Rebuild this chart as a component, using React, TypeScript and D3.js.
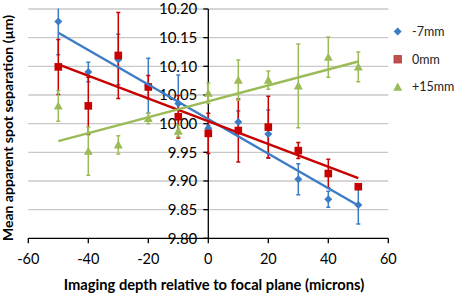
import React from "react";
import * as d3 from "d3";

const depths = [-50, -40, -30, -20, -10, 0, 10, 20, 30, 40, 50];
const minus7 = [10.178, 10.09, 10.112, 10.066, 10.035, 9.992, 10.003, 9.982, 9.903, 9.868, 9.858];
const minus7Err = [0.058, 0.017, 0.044, 0.048, 0.05, 0.005, 0.019, 0.042, 0.027, 0.014, 0.033];
const zero = [10.099, 10.031, 10.119, 10.064, 10.012, 9.983, 9.988, 9.994, 9.953, 9.913, 9.89];
const zeroErr = [0.048, 0.05, 0.075, 0.02, 0.037, 0.035, 0.055, 0.054, 0.014, 0.025, 0.0];
const plus15 = [10.031, 9.952, 9.963, 10.009, 9.987, 10.053, 10.076, 10.076, 10.066, 10.116, 10.099];
const plus15Err = [0.027, 0.042, 0.016, 0.009, 0.01, 0.018, 0.035, 0.016, 0.073, 0.035, 0.026];

const seriesNames = ["-7mm", "0mm", "+15mm"];
const xTicks = [-60, -40, -20, 0, 20, 40, 60];
const yTicks = [9.8, 9.85, 9.9, 9.95, 10.0, 10.05, 10.1, 10.15, 10.2];

const FONT = "Lato, 'Open Sans', sans-serif";

function regress(xs: number[], ys: number[]) {
  const mx = d3.mean(xs)!;
  const my = d3.mean(ys)!;
  let sxy = 0, sxx = 0;
  xs.forEach((x, i) => { sxy += (x - mx) * (ys[i] - my); sxx += (x - mx) ** 2; });
  const b = sxy / sxx;
  return (x: number) => my + b * (x - mx);
}

export default function App() {
  const W = 454, H = 299;
  const x = d3.scaleLinear().domain([-60, 60]).range([28.3, 388.3]);
  const y = d3.scaleLinear().domain([9.8, 10.2]).range([238.3, 9]);

  const series = [
    { name: seriesNames[0], vals: minus7, err: minus7Err, color: "#3b7cc4", line: "#3b7cc4", shape: "diamond" },
    { name: seriesNames[1], vals: zero, err: zeroErr, color: "#c80000", line: "#c80000", shape: "square" },
    { name: seriesNames[2], vals: plus15, err: plus15Err, color: "#9bbb59", line: "#9bbb59", shape: "triangle" },
  ];

  const marker = (shape: string, cx: number, cy: number, color: string, key: string, legend = false) => {
    if (shape === "diamond") {
      const s = 4;
      return <path key={key} d={`M${cx},${cy - s}L${cx + s},${cy}L${cx},${cy + s}L${cx - s},${cy}Z`} fill={color} />;
    }
    if (shape === "square") {
      const s = legend ? 3.7 : 3.8;
      return <rect key={key} x={cx - s} y={cy - s} width={2 * s} height={2 * s} fill={legend ? "#c0504d" : color} stroke={legend ? "#b03a37" : "none"} strokeWidth={0.8} />;
    }
    const s = 4.5;
    return <path key={key} d={`M${cx},${cy - s}L${cx + s},${cy + s * 0.8}L${cx - s},${cy + s * 0.8}Z`} fill={color} />;
  };

  const line = d3.line<[number, number]>().x(d => x(d[0])).y(d => y(d[1]));

  return (
    <svg width={W} height={H} style={{ position: "absolute", left: 0, top: 0, background: "#fff" }} fontFamily={FONT}>
      <defs>
        <clipPath id="plot">
          <rect x={28} y={8.5} width={361} height={230.5} />
        </clipPath>
      </defs>
      {/* gridlines */}
      {yTicks.filter(t => t > 9.8).map(t => (
        <line key={t} x1={x(-60)} x2={x(60)} y1={y(t)} y2={y(t)} stroke="#c8c8c8" strokeWidth={1.3} />
      ))}
      {/* x axis */}
      <line x1={x(-60)} x2={x(60)} y1={y(9.8)} y2={y(9.8)} stroke="#000" strokeWidth={1.3} />
      {xTicks.map(t => (
        <g key={t}>
          <line x1={x(t)} x2={x(t)} y1={y(9.8)} y2={y(9.8) + 5} stroke="#000" strokeWidth={1.3} />
          <text x={x(t)} y={264} textAnchor="middle" fontSize={14.5} fill="#000">{t}</text>
        </g>
      ))}
      {/* y axis at x = 0 */}
      <line x1={x(0)} x2={x(0)} y1={y(9.8)} y2={y(10.2)} stroke="#000" strokeWidth={1.3} />
      {yTicks.map(t => (
        <g key={t}>
          <line x1={x(0) - 5} x2={x(0)} y1={y(t)} y2={y(t)} stroke="#000" strokeWidth={1.3} />
          <text x={x(0) - 11} y={y(t) + 5.2} textAnchor="end" fontSize={15} fill="#000">{t.toFixed(2)}</text>
        </g>
      ))}
      {/* error bars */}
      <g clipPath="url(#plot)">
        {series.map(s => s.vals.map((v, i) => {
          const e = s.err[i];
          if (e <= 0) return null;
          const cx = x(depths[i]);
          return (
            <g key={s.name + i} stroke={s.color} strokeWidth={1.5}>
              <line x1={cx} x2={cx} y1={y(v + e)} y2={y(v - e)} />
              <line x1={cx - 2} x2={cx + 2} y1={y(v + e)} y2={y(v + e)} />
              <line x1={cx - 2} x2={cx + 2} y1={y(v - e)} y2={y(v - e)} />
            </g>
          );
        }))}
      </g>
      {/* markers */}
      {series.map(s => s.vals.map((v, i) => marker(s.shape, x(depths[i]), y(v), s.color, s.name + "m" + i)))}
      {/* trendlines */}
      {series.map(s => {
        const f = regress(depths, s.vals);
        const pts: [number, number][] = [[-50, f(-50)], [50, f(50)]];
        return <path key={s.name + "t"} d={line(pts)!} stroke={s.line} strokeWidth={2.4} fill="none" />;
      })}
      {/* legend */}
      {series.map((s, i) => (
        <g key={s.name + "l"}>
          {marker(s.shape, 397.7, 31.5 + i * 27.8, s.color, "lg" + i, true)}
          <text x={412} y={31.5 + i * 27.8 + 4.3} fontSize={12.5} fill="#222">{s.name}</text>
        </g>
      ))}
      {/* axis titles */}
      <text x={214} y={290} textAnchor="middle" fontSize={14.7} fontWeight="bold" fill="#000">
        Imaging depth relative to focal plane (microns)
      </text>
      <text transform="translate(13,128) rotate(-90)" textAnchor="middle" fontSize={14} fontWeight="bold" fill="#000">
        Mean apparent spot separation (µm)
      </text>
    </svg>
  );
}
